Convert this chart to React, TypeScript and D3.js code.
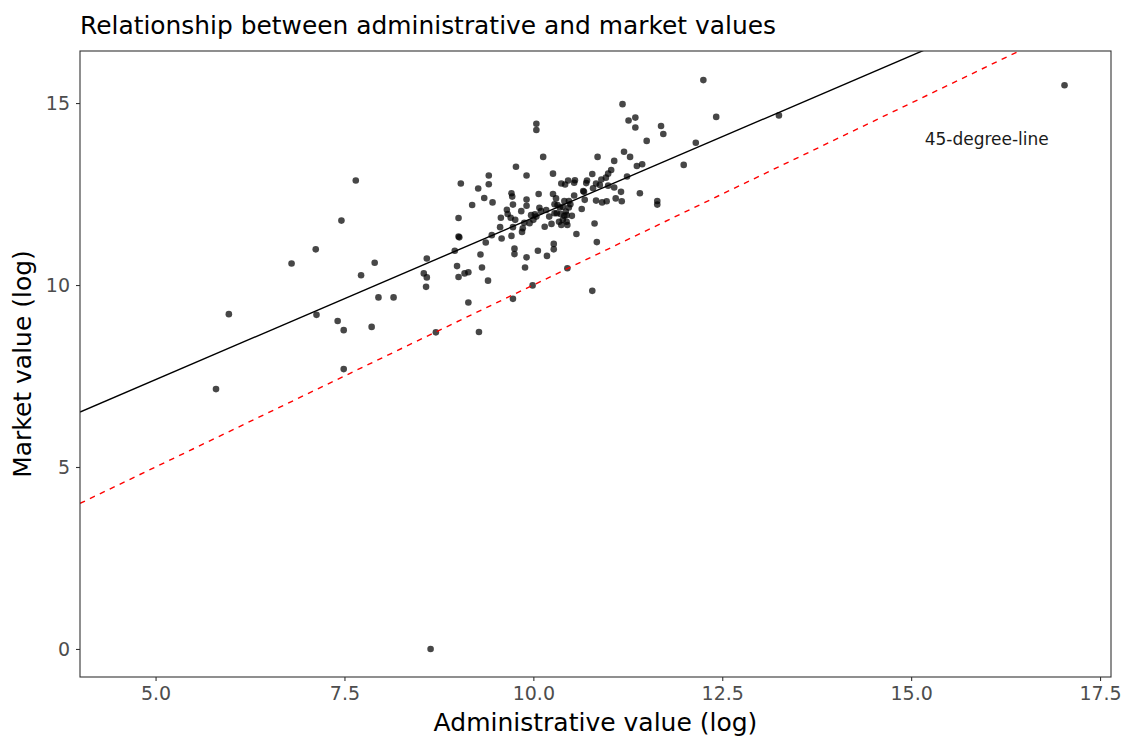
import React, { useEffect, useRef } from 'react';
import * as d3 from 'd3';

// administrative (log) and market (log) values
const adminValues = [
  5.80, 5.97, 6.80, 7.12, 7.13, 7.41, 7.46, 7.49, 7.49, 7.65, 7.72, 7.86, 7.90, 7.95, 8.15,
  8.59, 8.55, 8.59, 8.58, 8.71, 8.64, 8.96, 8.99, 9.01, 9.09, 9.14, 9.14, 9.28, 9.30, 9.32,
  9.40, 9.01, 9.02, 9.01, 9.19, 9.04, 9.27, 9.41, 9.41, 9.35, 9.46, 9.37, 9.45, 9.58, 9.71,
  9.85, 9.75, 9.75, 9.91, 10.06, 10.18, 10.27, 10.27, 9.89, 9.99, 9.73, 10.45, 10.78, 10.57, 10.84,
  10.81, 10.04, 10.04, 10.13, 9.77, 9.91, 10.26, 10.85, 11.07, 11.18, 11.26, 11.35, 11.35, 11.69, 11.72,
  11.50, 11.20, 11.28, 11.44, 11.37, 11.24, 11.03, 10.99, 10.96, 10.90, 10.83, 10.78, 10.71, 10.70, 10.66,
  10.55, 10.46, 10.37, 10.42, 10.54, 10.26, 10.30, 10.07, 9.91, 9.91, 9.71, 9.72, 9.73, 9.84, 9.65,
  9.66, 9.57, 9.70, 10.08, 10.10, 10.02, 10.32, 10.41, 10.47, 10.54, 10.67, 10.79, 10.83, 10.91, 10.97,
  11.09, 11.07, 10.35, 10.43, 10.47, 10.51, 10.41, 10.64, 10.21, 10.28, 10.17, 9.76, 9.97, 10.04, 10.00,
  9.95, 9.88, 9.86, 9.73, 10.15, 10.24, 10.31, 10.36, 10.34, 10.39, 10.28, 10.45, 10.44, 10.44, 10.88,
  10.99, 10.68, 11.16, 11.17, 11.41, 10.49, 10.39, 10.37, 11.64, 11.64, 12.25, 12.42, 13.25, 12.15, 11.99,
  17.03, 9.56,
];
const marketValues = [
  7.14, 9.20, 10.59, 10.98, 9.18, 9.01, 11.77, 8.76, 7.69, 12.87, 10.27, 8.85, 10.61, 9.66, 9.66,
  10.73, 10.32, 10.21, 9.95, 8.70, 0.00, 10.94, 10.52, 10.22, 10.32, 10.35, 9.52, 8.71, 10.84, 10.48,
  10.12, 11.33, 11.31, 11.84, 12.20, 12.79, 12.65, 12.77, 13.01, 12.39, 12.27, 11.17, 11.37, 11.28, 11.35,
  11.46, 11.00, 10.85, 10.76, 10.94, 10.80, 11.13, 10.98, 10.48, 9.99, 9.62, 10.46, 9.84, 11.40, 11.18,
  11.69, 14.43, 14.26, 13.52, 13.25, 13.01, 13.06, 13.52, 13.41, 14.97, 14.52, 14.60, 14.33, 14.37, 14.15,
  13.96, 13.66, 13.52, 13.32, 13.27, 12.98, 13.16, 13.06, 12.95, 12.90, 12.79, 13.05, 12.87, 12.80, 12.58,
  12.88, 12.87, 12.79, 12.76, 12.81, 12.50, 12.38, 12.50, 12.35, 12.18, 12.52, 12.43, 12.21, 12.03, 12.07,
  11.95, 11.85, 11.85, 12.12, 12.03, 11.94, 12.20, 12.31, 12.31, 12.46, 12.56, 12.66, 12.32, 12.27, 12.30,
  12.38, 12.68, 12.13, 12.02, 12.13, 11.90, 11.90, 12.09, 11.88, 11.97, 12.06, 11.79, 11.92, 11.88, 11.79,
  11.70, 11.71, 11.56, 11.59, 11.60, 11.68, 11.97, 11.95, 11.74, 12.15, 12.22, 11.65, 11.74, 11.92, 12.75,
  12.73, 12.34, 12.56, 12.30, 12.52, 12.22, 11.79, 11.65, 12.31, 12.21, 15.63, 14.62, 14.66, 13.91, 13.30,
  15.49, 11.59,
];

// fitted line (intercept, slope) and the 45-degree reference
const fitLine = [2.95, 0.89];
const diagLine = [0, 1];

const xTicks = [5.0, 7.5, 10.0, 12.5, 15.0, 17.5];
const yTicks = [0, 5, 10, 15];

const App = () => {
  const ref = useRef(null);
  const width = 1126;
  const height = 740;
  const margin = { top: 51, right: 15, bottom: 63, left: 80 };

  useEffect(() => {
    const svg = d3.select(ref.current);
    svg.selectAll('*').remove();

    const innerWidth = width - margin.left - margin.right;
    const innerHeight = height - margin.top - margin.bottom;

    const x = d3.scaleLinear().domain([4.0, 17.645]).range([0, innerWidth]);
    const y = d3.scaleLinear().domain([-0.77, 16.43]).range([innerHeight, 0]);

    const font = '"DejaVu Sans", sans-serif';

    svg.append('text')
      .attr('x', margin.left)
      .attr('y', 34)
      .attr('font-family', font)
      .attr('font-size', 24.9)
      .attr('fill', '#000')
      .text('Relationship between administrative and market values');

    const g = svg.append('g')
      .attr('transform', `translate(${margin.left},${margin.top})`);

    g.append('clipPath').attr('id', 'panel-clip')
      .append('rect').attr('width', innerWidth).attr('height', innerHeight);

    const data = adminValues.map((a, i) => ({ a, m: marketValues[i] }));

    g.append('g')
      .selectAll('circle')
      .data(data)
      .enter()
      .append('circle')
      .attr('cx', (d) => x(d.a))
      .attr('cy', (d) => y(d.m))
      .attr('r', 3.3)
      .attr('fill', '#000')
      .attr('fill-opacity', 0.72);

    const lines = g.append('g').attr('clip-path', 'url(#panel-clip)');
    const [x0, x1] = x.domain();

    lines.append('line')
      .attr('x1', x(x0)).attr('y1', y(fitLine[0] + fitLine[1] * x0))
      .attr('x2', x(x1)).attr('y2', y(fitLine[0] + fitLine[1] * x1))
      .attr('stroke', '#000')
      .attr('stroke-width', 1.4);

    lines.append('line')
      .attr('x1', x(x0)).attr('y1', y(diagLine[0] + diagLine[1] * x0))
      .attr('x2', x(x1)).attr('y2', y(diagLine[0] + diagLine[1] * x1))
      .attr('stroke', '#ff0000')
      .attr('stroke-width', 1.4)
      .attr('stroke-dasharray', '5.5,5.5');

    g.append('text')
      .attr('x', x(16))
      .attr('y', y(14))
      .attr('dy', '0.35em')
      .attr('text-anchor', 'middle')
      .attr('font-family', font)
      .attr('font-size', 17)
      .attr('fill', '#1a1a1a')
      .text('45-degree-line');

    // panel border
    g.append('rect')
      .attr('width', innerWidth)
      .attr('height', innerHeight)
      .attr('fill', 'none')
      .attr('stroke', '#333333')
      .attr('stroke-width', 1.1);

    const xAxis = d3.axisBottom(x).tickValues(xTicks).tickFormat(d3.format('.1f')).tickSize(4).tickPadding(6);
    const yAxis = d3.axisLeft(y).tickValues(yTicks).tickFormat(d3.format('d')).tickSize(4).tickPadding(6);

    const styleAxis = (sel) => {
      sel.select('.domain').remove();
      sel.selectAll('.tick line').attr('stroke', '#333333').attr('stroke-width', 1.1);
      sel.selectAll('.tick text')
        .attr('fill', '#4d4d4d')
        .attr('font-family', font)
        .attr('font-size', 19);
    };

    g.append('g')
      .attr('transform', `translate(0,${innerHeight})`)
      .call(xAxis)
      .call(styleAxis);

    g.append('g')
      .call(yAxis)
      .call(styleAxis);

    svg.append('text')
      .attr('x', margin.left + innerWidth / 2)
      .attr('y', 731)
      .attr('text-anchor', 'middle')
      .attr('font-family', font)
      .attr('font-size', 25)
      .attr('fill', '#000')
      .text('Administrative value (log)');

    svg.append('text')
      .attr('transform', `translate(31,${margin.top + innerHeight / 2}) rotate(-90)`)
      .attr('text-anchor', 'middle')
      .attr('font-family', font)
      .attr('font-size', 25)
      .attr('fill', '#000')
      .text('Market value (log)');
  }, []);

  return (
    <svg
      ref={ref}
      width={width}
      height={height}
      style={{ position: 'absolute', left: 0, top: 0, background: '#fff' }}
    ></svg>
  );
};

export default App;
